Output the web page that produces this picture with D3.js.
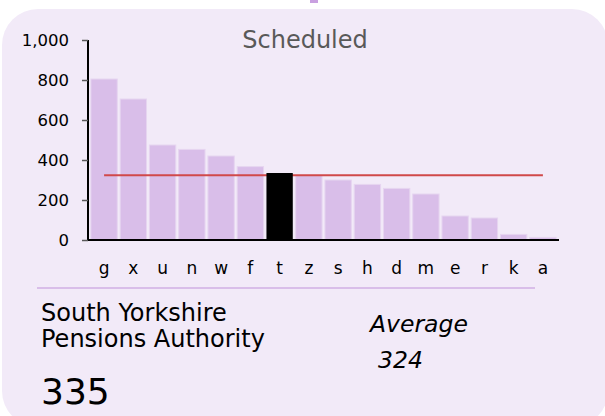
<!DOCTYPE html>
<html>
<head>
<meta charset="utf-8">
<script src="https://cdn.jsdelivr.net/npm/d3@7"></script>
<style>
  body { margin: 0; background: #fff; }
  svg { display: block; font-family: "DejaVu Sans", sans-serif; }
</style>
</head>
<body>
<svg width="605" height="416"></svg>
<script>
const categories = ["g", "x", "u", "n", "w", "f", "t", "z", "s", "h", "d", "m", "e", "r", "k", "a"];
const values = [805, 705, 475, 453, 420, 367, 335, 322, 300, 278, 258, 230, 120, 110, 28, 13];
const yTicks = [0, 200, 400, 600, 800, 1000];
const highlight = "t";
const average = 324;
const title = "Scheduled";
const orgName = ["South Yorkshire", "Pensions Authority"];

const data = categories.map((c, i) => ({name: c, value: values[i]}));
const selected = data.find(d => d.name === highlight);

const svg = d3.select("svg");

// card background
svg.append("rect")
   .attr("x", 2).attr("y", 9)
   .attr("width", 606).attr("height", 418)
   .attr("rx", 36)
   .attr("fill", "#f2eaf8");

svg.append("rect")
   .attr("x", 310).attr("y", 0)
   .attr("width", 8).attr("height", 3)
   .attr("fill", "#c9a0e0");

const x = d3.scaleBand().domain(categories).range([88, 559]).padding(0.1);
const y = d3.scaleLinear().domain([0, 1000]).range([240, 40]);

svg.append("text")
   .attr("x", 305).attr("y", 48)
   .attr("text-anchor", "middle")
   .attr("font-size", 24)
   .attr("fill", "#595959")
   .text(title);

// bars (plain ones first)
svg.append("g").selectAll("rect")
   .data(data.filter(d => d.name !== highlight))
   .join("rect")
   .attr("x", d => x(d.name))
   .attr("y", d => y(d.value))
   .attr("width", x.bandwidth())
   .attr("height", d => y(0) - y(d.value))
   .attr("fill", "#d9bee9")
   .attr("stroke", "#e6d5f0")
   .attr("stroke-width", 1);

// average line
svg.append("line")
   .attr("x1", x(categories[0]) + x.bandwidth() / 2)
   .attr("x2", x(categories[categories.length - 1]) + x.bandwidth() / 2)
   .attr("y1", y(average)).attr("y2", y(average))
   .attr("stroke", "#d0494a")
   .attr("stroke-width", 2);

// highlighted bar on top
svg.append("rect")
   .attr("x", x(selected.name))
   .attr("y", y(selected.value))
   .attr("width", x.bandwidth())
   .attr("height", y(0) - y(selected.value))
   .attr("fill", "#000");

// y axis
const yAxis = svg.append("g")
   .attr("transform", "translate(88,0)")
   .call(d3.axisLeft(y).tickValues(yTicks).tickFormat(d3.format(",")).tickSize(6).tickPadding(13));
yAxis.select(".domain").attr("stroke", "#000").attr("stroke-width", 2).attr("d", "M0,40V241");
yAxis.selectAll(".tick line").attr("stroke", "#595959").attr("stroke-width", 1.5);
yAxis.selectAll(".tick text").attr("font-size", 16.5).attr("fill", "#000").attr("font-family", "DejaVu Sans");

// x axis
const xAxis = svg.append("g")
   .attr("transform", "translate(0,240)")
   .call(d3.axisBottom(x).tickSize(0).tickPadding(22));
xAxis.select(".domain").attr("stroke", "#000").attr("stroke-width", 2).attr("d", "M88,0H559");
xAxis.selectAll(".tick text").attr("font-size", 17).attr("fill", "#000").attr("font-family", "DejaVu Sans");

// divider
svg.append("line")
   .attr("x1", 37).attr("x2", 535)
   .attr("y1", 288).attr("y2", 288)
   .attr("stroke", "#d9bee9").attr("stroke-width", 2);

// bottom texts
svg.append("g").selectAll("text")
   .data(orgName)
   .join("text")
   .attr("x", 41)
   .attr("y", (d, i) => 321 + i * 26)
   .attr("font-size", 24)
   .attr("fill", "#000")
   .text(d => d);

svg.append("text")
   .attr("x", 41).attr("y", 404)
   .attr("font-size", 36)
   .attr("fill", "#000")
   .text(selected.value);

svg.append("text")
   .attr("x", 370).attr("y", 332)
   .attr("font-size", 23.5)
   .attr("font-style", "italic")
   .attr("fill", "#000")
   .text("Average");

svg.append("text")
   .attr("x", 378).attr("y", 368)
   .attr("font-size", 23.5)
   .attr("font-style", "italic")
   .attr("fill", "#000")
   .text(average);
</script>
</body>
</html>
